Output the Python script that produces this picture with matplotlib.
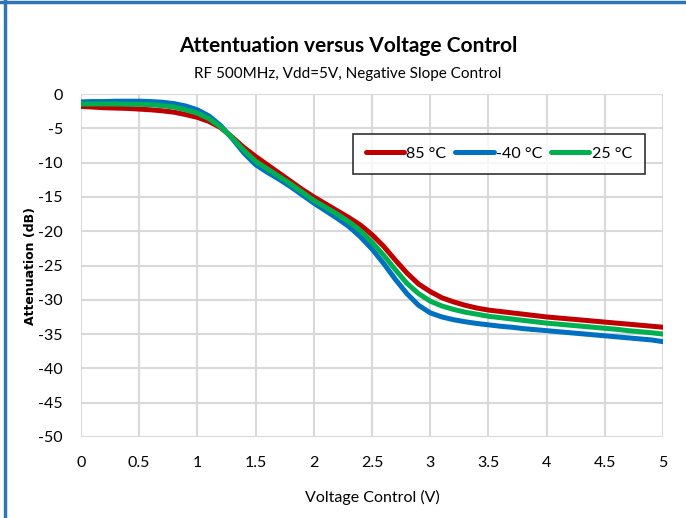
import matplotlib.pyplot as plt
from matplotlib.lines import Line2D

plt.rcParams['font.family'] = ['Lato', 'DejaVu Sans']
plt.rcParams['axes.unicode_minus'] = False

# 数据（从图中读取，每 0.1 V 一个点）
volts = [round(i * 0.1, 1) for i in range(51)]
att_85 = [-1.8, -1.9, -2.0, -2.05, -2.1, -2.2, -2.3, -2.45, -2.65, -3.0,
          -3.4, -4.0, -4.9, -6.3, -7.8, -9.1, -10.3, -11.5, -12.7, -13.9,
          -15.0, -16.0, -17.0, -18.0, -19.1, -20.5, -22.2, -24.2, -26.1, -27.7,
          -28.8, -29.7, -30.3, -30.8, -31.2, -31.5, -31.7, -31.9, -32.1, -32.3,
          -32.5, -32.65, -32.8, -32.95, -33.1, -33.25, -33.4, -33.55, -33.7, -33.85,
          -34.0]
att_m40 = [-1.15, -1.1, -1.1, -1.05, -1.05, -1.05, -1.1, -1.2, -1.4, -1.75,
           -2.3, -3.2, -4.6, -6.5, -8.6, -10.3, -11.4, -12.4, -13.5, -14.7,
           -15.9, -17.0, -18.1, -19.3, -20.8, -22.6, -24.7, -27.0, -29.1, -30.8,
           -31.9, -32.5, -32.9, -33.2, -33.45, -33.65, -33.85, -34.0, -34.2, -34.35,
           -34.5, -34.65, -34.8, -34.95, -35.1, -35.25, -35.4, -35.55, -35.7, -35.85,
           -36.1]
att_25 = [-1.45, -1.45, -1.45, -1.45, -1.5, -1.5, -1.55, -1.7, -1.9, -2.3,
          -2.8, -3.6, -4.8, -6.4, -8.2, -9.8, -10.9, -12.0, -13.1, -14.3,
          -15.5, -16.5, -17.5, -18.6, -19.9, -21.6, -23.5, -25.6, -27.6, -29.1,
          -30.2, -30.9, -31.4, -31.8, -32.1, -32.4, -32.6, -32.8, -33.0, -33.2,
          -33.4, -33.55, -33.7, -33.85, -34.0, -34.15, -34.3, -34.5, -34.65, -34.8,
          -35.0]
labels = ['85 °C', '-40 °C', '25 °C']
colors = ['#C00000', '#0070C0', '#00B050']

fig = plt.figure(figsize=(6.86, 5.18), dpi=100)
ax = fig.add_axes([0.118, 0.1564, 0.8485, 0.6621])

for ys, c, lab in zip([att_85, att_m40, att_25], colors, labels):
    ax.plot(volts, ys, color=c, lw=3.6, label=lab,
            solid_capstyle='round', solid_joinstyle='round')

ax.set_xlim(0, 5)
ax.set_ylim(-50, 0)
ax.set_xticks([i * 0.5 for i in range(11)])
ax.set_xticklabels(['0', '0.5', '1', '1.5', '2', '2.5', '3', '3.5', '4', '4.5', '5'])
ax.set_yticks(range(-50, 1, 5))
ax.grid(True, color='#d9d9d9', lw=1.5)
ax.set_axisbelow(True)
for s in ax.spines.values():
    s.set_visible(False)
ax.tick_params(length=0, labelsize=11.5)
ax.tick_params(axis='x', pad=14)
ax.tick_params(axis='y', pad=13)

ax.set_xlabel('Voltage Control (V)', fontsize=11.5, labelpad=14)
ax.set_ylabel('Attenuation (dB)', fontsize=9, fontweight='bold',
              family='DejaVu Sans', labelpad=0.5)

fig.text(0.507, 0.912, 'Attentuation versus Voltage Control', ha='center',
         va='center', fontsize=15, fontweight='bold')
fig.text(0.507, 0.858, 'RF 500MHz, Vdd=5V, Negative Slope Control', ha='center',
         va='center', fontsize=11)

handles = [Line2D([0], [0], color=c, lw=3.6, solid_capstyle='round') for c in colors]
leg = ax.legend(handles, labels, ncol=3, loc='upper left',
                bbox_to_anchor=(0.467, 0.884), borderaxespad=0, fontsize=11.5,
                frameon=True, fancybox=False, edgecolor='black', handlelength=2.4,
                handletextpad=0.15, columnspacing=0.55, borderpad=0.8)
leg.get_frame().set_linewidth(1.2)

# 外框蓝线
fig.add_artist(Line2D([0, 1], [0.996, 0.996], color='#2E75B6', lw=2.5,
                      transform=fig.transFigure))
fig.add_artist(Line2D([0.007, 0.007], [0, 1], color='#2E75B6', lw=2.5,
                      transform=fig.transFigure))

fig.savefig('out.png', dpi=100)
